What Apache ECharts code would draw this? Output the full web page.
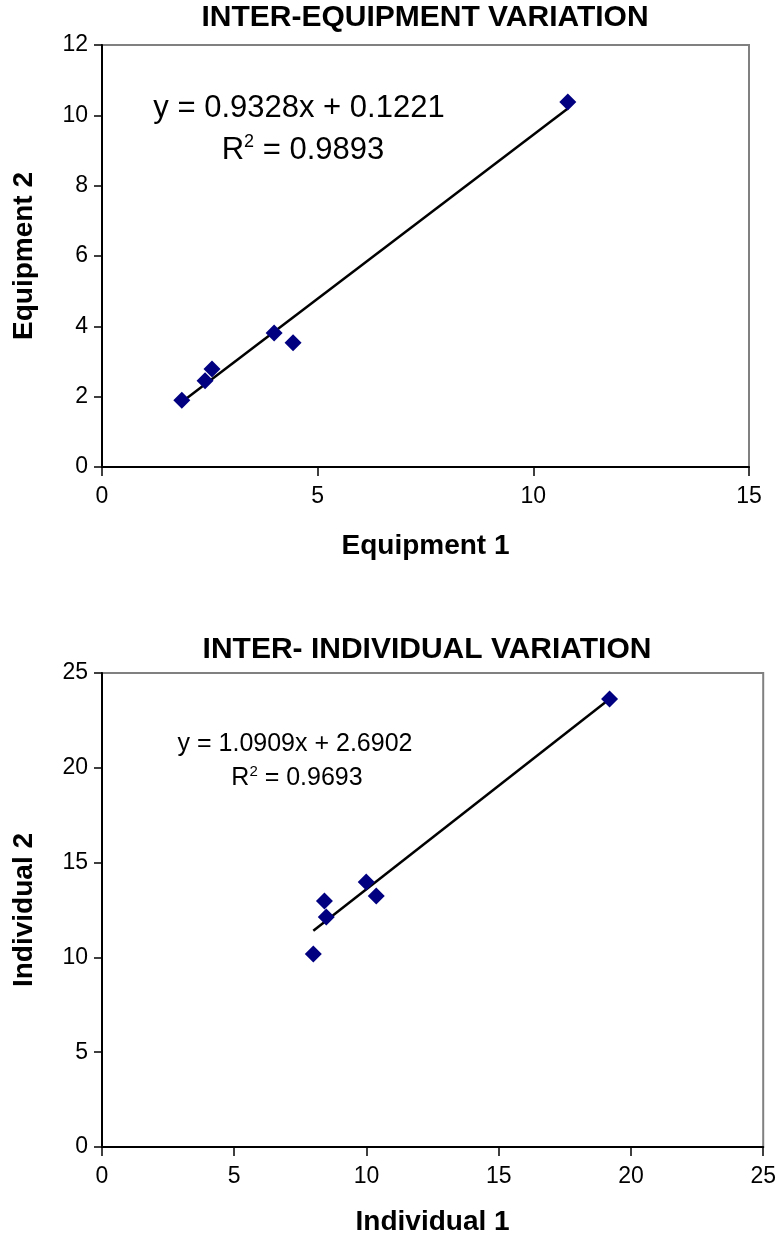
<!DOCTYPE html>
<html>
<head>
<meta charset="utf-8">
<script src="https://cdn.jsdelivr.net/npm/echarts@6/dist/echarts.min.js"></script>
<style>html,body{margin:0;padding:0;background:#fff}#c{width:779px;height:1241px}</style>
</head>
<body>
<div id="c"></div>
<script>
// ---- Chart 1 data: inter-equipment ----
const equip1 = [1.85, 2.39, 2.55, 3.99, 4.43, 10.80];
const equip2 = [1.90, 2.45, 2.79, 3.81, 3.53, 10.38];
const eqSlope = 0.9328, eqIntercept = 0.1221;
const eqText = 'y = 0.9328x + 0.1221';
const eqR2 = ' = 0.9893';
const xTicks1 = [0, 5, 10, 15];
const yTicks1 = [0, 2, 4, 6, 8, 10, 12];

// ---- Chart 2 data: inter-individual ----
const indiv1 = [7.99, 8.41, 8.48, 9.99, 10.37, 19.19];
const indiv2 = [10.18, 12.97, 12.13, 13.98, 13.24, 23.63];
const inSlope = 1.0909, inIntercept = 2.6902;
const inText = 'y = 1.0909x + 2.6902';
const inR2 = ' = 0.9693';
const xTicks2 = [0, 5, 10, 15, 20, 25];
const yTicks2 = [0, 5, 10, 15, 20, 25];

const title1 = 'INTER-EQUIPMENT VARIATION';
const title2 = 'INTER- INDIVIDUAL VARIATION';

function trend(xs, m, b) {
  const lo = Math.min(...xs), hi = Math.max(...xs);
  return [[lo, m * lo + b], [hi, m * hi + b]];
}

const SANS = '"Liberation Sans", Arial, sans-serif';

function xAxisCfg(idx, ticks, name, gap) {
  return {
    type: 'value', gridIndex: idx, min: ticks[0], max: ticks[ticks.length - 1],
    interval: ticks[1] - ticks[0],
    name: name, nameLocation: 'middle', nameGap: gap,
    nameTextStyle: { fontFamily: SANS, fontWeight: 'bold', fontSize: 28, color: '#000' },
    axisLine: { show: true, onZero: false, lineStyle: { color: '#000', width: 2 } },
    axisTick: { show: true, inside: false, length: 9, lineStyle: { color: '#000', width: 1.5 } },
    axisLabel: { margin: 18, fontFamily: SANS, fontSize: 23, color: '#000' },
    splitLine: { show: false }
  };
}
function yAxisCfg(idx, ticks, name, gap) {
  return {
    type: 'value', gridIndex: idx, min: ticks[0], max: ticks[ticks.length - 1],
    interval: ticks[1] - ticks[0],
    name: name, nameLocation: 'middle', nameGap: gap, nameRotate: 90,
    nameTextStyle: { fontFamily: SANS, fontWeight: 'bold', fontSize: 28, color: '#000' },
    axisLine: { show: true, onZero: false, lineStyle: { color: '#000', width: 2 } },
    axisTick: { show: true, inside: false, length: 8, lineStyle: { color: '#000', width: 1.5 } },
    axisLabel: { margin: 14, fontFamily: SANS, fontSize: 23, color: '#000' },
    splitLine: { show: false }
  };
}

const chart = echarts.init(document.getElementById('c'), null, { renderer: 'canvas' });
chart.setOption({
  backgroundColor: '#fff',
  animation: false,
  grid: [
    { left: 102, top: 45, width: 647, height: 422, show: true, borderColor: '#808080', borderWidth: 2, backgroundColor: 'transparent' },
    { left: 102, top: 673, width: 663, height: 474, show: true, borderColor: '#808080', borderWidth: 2, backgroundColor: 'transparent' }
  ],
  xAxis: [
    xAxisCfg(0, xTicks1, 'Equipment 1', 65),
    xAxisCfg(1, xTicks2, 'Individual 1', 61)
  ],
  yAxis: [
    yAxisCfg(0, yTicks1, 'Equipment 2', 64),
    yAxisCfg(1, yTicks2, 'Individual 2', 64)
  ],
  graphic: [
    { type: 'text', x: 425, y: 18, style: { text: title1, font: 'bold 30px ' + SANS, fill: '#000', textAlign: 'center', textVerticalAlign: 'middle' } },
    { type: 'text', x: 427, y: 650, style: { text: title2, font: 'bold 30px ' + SANS, fill: '#000', textAlign: 'center', textVerticalAlign: 'middle' } },
    { type: 'text', x: 299, y: 108, style: { text: eqText, font: '31px ' + SANS, fill: '#000', textAlign: 'center', textVerticalAlign: 'middle' } },
    { type: 'text', x: 303, y: 150, style: {
        text: '{a|R}{s|2}{a|' + eqR2 + '}', textAlign: 'center', textVerticalAlign: 'middle',
        rich: { a: { fontFamily: SANS, fontSize: 31, color: '#000' }, s: { fontFamily: SANS, fontSize: 18, color: '#000', padding: [0, 0, 16, 0] } } } },
    { type: 'text', x: 295, y: 744, style: { text: inText, font: '25px ' + SANS, fill: '#000', textAlign: 'center', textVerticalAlign: 'middle' } },
    { type: 'text', x: 297, y: 778, style: {
        text: '{a|R}{s|2}{a|' + inR2 + '}', textAlign: 'center', textVerticalAlign: 'middle',
        rich: { a: { fontFamily: SANS, fontSize: 25, color: '#000' }, s: { fontFamily: SANS, fontSize: 15, color: '#000', padding: [0, 0, 13, 0] } } } }
  ],
  series: [
    { type: 'line', xAxisIndex: 0, yAxisIndex: 0, data: trend(equip1, eqSlope, eqIntercept), symbol: 'none',
      lineStyle: { color: '#000', width: 2.5 }, z: 2 },
    { type: 'scatter', xAxisIndex: 0, yAxisIndex: 0, data: equip1.map((v, i) => [v, equip2[i]]),
      symbol: 'diamond', symbolSize: 17, itemStyle: { color: '#000080', opacity: 1 }, z: 3 },
    { type: 'line', xAxisIndex: 1, yAxisIndex: 1, data: trend(indiv1, inSlope, inIntercept), symbol: 'none',
      lineStyle: { color: '#000', width: 2.5 }, z: 2 },
    { type: 'scatter', xAxisIndex: 1, yAxisIndex: 1, data: indiv1.map((v, i) => [v, indiv2[i]]),
      symbol: 'diamond', symbolSize: 17, itemStyle: { color: '#000080', opacity: 1 }, z: 3 }
  ]
});
</script>
</body>
</html>
